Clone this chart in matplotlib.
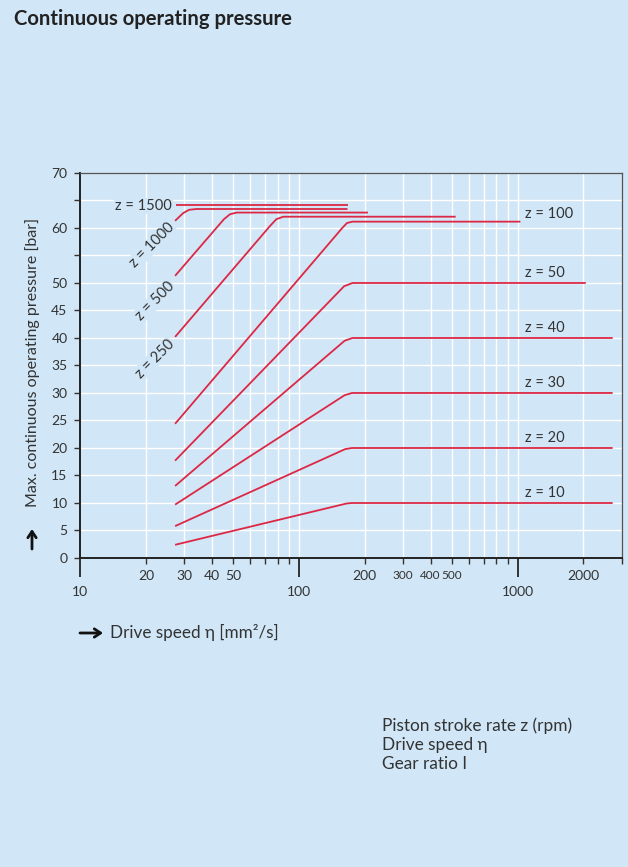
import numpy as np
import matplotlib.pyplot as plt
from matplotlib.ticker import FixedLocator, FixedFormatter

# ── Colours / fonts ──────────────────────────────────────────
BG = '#d1e6f6'
RED = '#dc2845'
TXT = '#333333'
plt.rcParams['font.family'] = ['Lato', 'DejaVu Sans']

# ── Data ─────────────────────────────────────────────────────
# drive speed eta [mm2/s] and max. pressure [bar] per stroke rate z
eta_z10 = [27.2, 165, 175, 2720]
p_z10 = [2.4, 9.9, 10.0, 10.0]
eta_z20 = [27.2, 163, 175, 2720]
p_z20 = [5.8, 19.8, 20.0, 20.0]
eta_z30 = [27.2, 162, 175, 2720]
p_z30 = [9.7, 29.6, 30.0, 30.0]
eta_z40 = [27.2, 162, 176, 2720]
p_z40 = [13.1, 39.5, 40.0, 40.0]
eta_z50 = [27.2, 161, 176, 2050]
p_z50 = [17.7, 49.4, 50.0, 50.0]
eta_z100 = [27.2, 158, 166, 176, 1030]
p_z100 = [24.4, 60.0, 60.9, 61.15, 61.15]
eta_z250 = [27.2, 74, 79, 85, 521]
p_z250 = [40.2, 60.4, 61.6, 62.05, 62.05]
eta_z500 = [27.2, 45.5, 48.5, 52, 207]
p_z500 = [51.3, 61.6, 62.5, 62.8, 62.8]
eta_z1000 = [27.2, 29.6, 31.5, 34, 167]
p_z1000 = [61.3, 62.7, 63.3, 63.45, 63.45]
eta_z1500 = [27.6, 167]
p_z1500 = [64.2, 64.2]

curves = [
    (eta_z10, p_z10), (eta_z20, p_z20), (eta_z30, p_z30), (eta_z40, p_z40),
    (eta_z50, p_z50), (eta_z100, p_z100), (eta_z250, p_z250),
    (eta_z500, p_z500), (eta_z1000, p_z1000), (eta_z1500, p_z1500),
]

# labels on the right side
right_labels = ['z = 10', 'z = 20', 'z = 30', 'z = 40', 'z = 50', 'z = 100']
right_label_p = [11.8, 21.8, 31.8, 41.8, 51.8, 62.6]
# rotated labels at the left ends of the steep curves
left_labels = ['z = 250', 'z = 500', 'z = 1000']
left_label_p = [39.3, 49.8, 60.5]

y_ticks = [0, 5, 10, 15, 20, 25, 30, 35, 40, 45, 50, 55, 60, 65, 70]
y_ticklabels = ['0', '5', '10', '15', '20', '25', '30', '35', '40', '45', '50',
                '', '60', '', '70']
x_major = [10, 100, 1000]
x_minor = [20, 30, 40, 50, 60, 70, 80, 90,
           200, 300, 400, 500, 600, 700, 800, 900, 2000, 3000]
x_minor_labels = ['20', '30', '40', '50', '', '', '', '',
                  '200', '300', '400', '500', '', '', '', '', '2000', '']

# ── Figure ───────────────────────────────────────────────────
fig = plt.figure(figsize=(6.28, 8.67), dpi=100)
fig.patch.set_facecolor(BG)
ax = fig.add_axes([0.1274, 0.3564, 0.863, 0.4441])
ax.set_facecolor(BG)
ax.set_xscale('log')
ax.set_xlim(10, 3000)
ax.set_ylim(0, 70)

# grid
for x in x_minor[:-1] + [100, 1000]:
    ax.axvline(x, color='white', lw=1.0, zorder=1)
for y in y_ticks[1:-1]:
    ax.axhline(y, color='white', lw=1.0, zorder=1)

for eta, p in curves:
    ax.plot(eta, p, color=RED, lw=1.3, solid_capstyle='butt', zorder=3)

# curve labels
lbl_kw = dict(fontsize=10.5, color=TXT, zorder=4)
for t, y in zip(right_labels, right_label_p):
    ax.text(1080, y, t, ha='left', va='center', **lbl_kw)
for t, y in zip(left_labels, left_label_p):
    ax.text(26.3, y, t, ha='right', va='center', rotation=45,
            rotation_mode='anchor',
            bbox=dict(facecolor=BG, edgecolor='none', pad=0.5), **lbl_kw)
ax.text(26.3, 64.0, 'z = 1500', ha='right', va='center',
        bbox=dict(facecolor=BG, edgecolor='none', pad=0.5), **lbl_kw)

# y axis
ax.set_yticks(y_ticks)
ax.set_yticklabels(y_ticklabels)
ax.tick_params(axis='y', direction='out', length=4, width=1, color=TXT,
               labelsize=10, labelcolor=TXT, pad=5)

# x axis
ax.xaxis.set_major_locator(FixedLocator(x_major))
ax.xaxis.set_major_formatter(FixedFormatter(['10', '100', '1000']))
ax.xaxis.set_minor_locator(FixedLocator(x_minor))
ax.xaxis.set_minor_formatter(FixedFormatter(x_minor_labels))
ax.tick_params(axis='x', which='major', direction='out', length=14, width=1.4,
               color=TXT, labelsize=10, labelcolor=TXT, pad=6.5)
ax.tick_params(axis='x', which='minor', direction='out', length=4.5, width=1,
               color=TXT, labelsize=10, labelcolor=TXT, pad=4)
fig.canvas.draw()
for lab in ax.xaxis.get_minorticklabels():
    if lab.get_text() in ('300', '400', '500'):
        lab.set_fontsize(8.5)

for side in ('left', 'bottom'):
    ax.spines[side].set_color('#222222')
    ax.spines[side].set_linewidth(1.4)
for side in ('top', 'right'):
    ax.spines[side].set_color('#555555')
    ax.spines[side].set_linewidth(0.9)

# axis titles with bold arrows
arrow_kw = dict(arrowstyle='->,head_length=0.45,head_width=0.3', lw=2.0,
                color='#111111', shrinkA=0, shrinkB=0)
ax.annotate('', xy=(32 / 628, 1 - 529 / 867), xytext=(32 / 628, 1 - 549 / 867),
            xycoords='figure fraction', textcoords='figure fraction',
            arrowprops=arrow_kw, annotation_clip=False)
fig.text(0.052, 1 - 362 / 867, 'Max. continuous operating pressure [bar]',
         rotation=90, ha='center', va='center', fontsize=11.5, color=TXT)
ax.annotate('', xy=(103 / 628, 1 - 633 / 867), xytext=(80 / 628, 1 - 633 / 867),
            xycoords='figure fraction', textcoords='figure fraction',
            arrowprops=arrow_kw, annotation_clip=False)
fig.text(110 / 628, 1 - 632 / 867, 'Drive speed \u03b7 [mm\u00b2/s]', ha='left',
         va='center', fontsize=12.3, color=TXT)

# title and footnote
fig.text(0.022, 0.978, 'Continuous operating pressure', ha='left', va='center',
         fontsize=14.6, fontweight='bold', color='#222222')
fig.text(382 / 628, 1 - 745 / 867,
         'Piston stroke rate z (rpm)\nDrive speed \u03b7\nGear ratio I',
         ha='left', va='center', fontsize=12.4, color=TXT, linespacing=1.22)

fig.savefig('out.png', dpi=100, facecolor=BG)
